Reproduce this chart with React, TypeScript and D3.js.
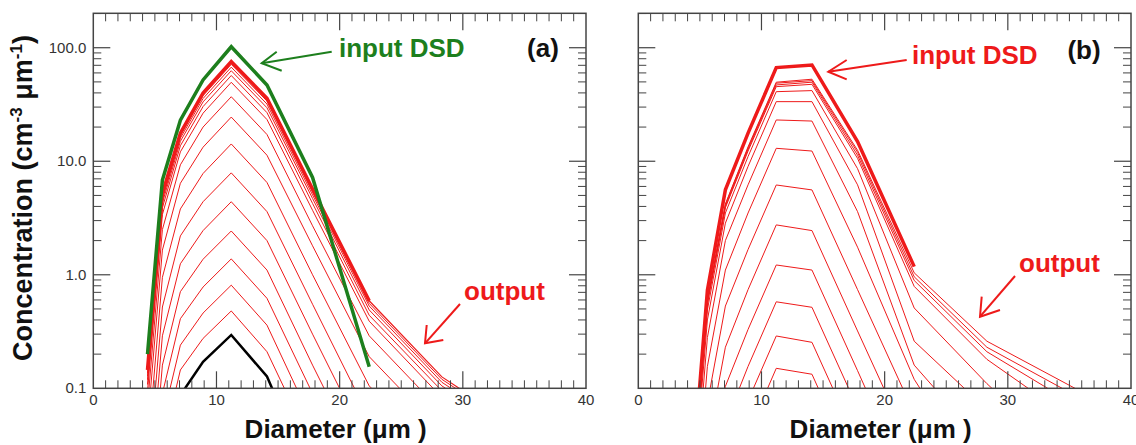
import React from 'react';
import * as d3 from 'd3';

// Diameter bins (µm)
const diameters = [4.4, 5.61, 7.07, 8.91, 11.2, 14.1, 17.8, 22.4, 28.3, 35.6];

// Panel (a)
const inputA = [0.2, 6.84, 23, 52, 102, 47, 7.2, 0.155];
const firstStepA = [0.0005, 0.012, 0.087, 0.171, 0.295, 0.127, 0.015, 0.001];
const outputA: number[][] = [
  [0.001, 0.031, 0.145, 0.275, 0.48, 0.21, 0.03, 0.003, 0.0008, 0.0002],
  [0.0016, 0.052, 0.24, 0.46, 0.81, 0.36, 0.05, 0.005, 0.0013, 0.0004],
  [0.0027, 0.09, 0.41, 0.78, 1.38, 0.62, 0.09, 0.009, 0.0023, 0.0007],
  [0.0047, 0.16, 0.71, 1.37, 2.43, 1.1, 0.16, 0.016, 0.004, 0.0012],
  [0.0085, 0.29, 1.25, 2.45, 4.4, 2.0, 0.3, 0.03, 0.0075, 0.0022],
  [0.015, 0.52, 2.2, 4.4, 7.9, 3.6, 0.55, 0.055, 0.013, 0.004],
  [0.027, 0.95, 3.8, 7.8, 14.2, 6.5, 1.0, 0.105, 0.024, 0.007],
  [0.047, 1.65, 6.4, 13.3, 24.5, 11.3, 1.8, 0.19, 0.041, 0.012],
  [0.07, 2.5, 9.3, 20, 37, 17.2, 2.7, 0.29, 0.062, 0.018],
  [0.094, 3.4, 12.1, 26.5, 49.6, 23.3, 3.7, 0.39, 0.083, 0.025],
  [0.108, 3.9, 13.7, 30.3, 56.9, 26.8, 4.25, 0.44, 0.095, 0.028],
  [0.119, 4.3, 15, 33.3, 62.7, 29.6, 4.7, 0.49, 0.105, 0.031],
  [0.128, 4.6, 16, 35.7, 67.4, 31.9, 5.05, 0.53, 0.113, 0.034],
  [0.136, 4.9, 16.9, 37.8, 71.4, 33.9, 5.35, 0.56, 0.12, 0.036],
];
const finalA = [0.145, 5.2, 17.7, 39.8, 75.4, 35.9, 5.7, 0.59, 0.126, 0.038];

// Panel (b)
const inputB = [0.017, 0.73, 5.6, 17.7, 66.8, 70.5, 14.9, 1.18];
const outputB: number[][] = [
  [0.00005, 0.0018, 0.013, 0.04, 0.15, 0.133, 0.017, 0.001, 0.0001, 0.00002],
  [0.0001, 0.0035, 0.025, 0.078, 0.289, 0.254, 0.033, 0.0026, 0.0002, 0.00003],
  [0.0002, 0.007, 0.049, 0.156, 0.578, 0.517, 0.067, 0.0053, 0.0004, 0.00005],
  [0.0004, 0.015, 0.104, 0.33, 1.22, 1.1, 0.143, 0.011, 0.0009, 0.0001],
  [0.0008, 0.033, 0.23, 0.74, 2.75, 2.45, 0.32, 0.026, 0.002, 0.0002],
  [0.0019, 0.074, 0.53, 1.67, 6.18, 5.59, 0.74, 0.06, 0.005, 0.0005],
  [0.004, 0.156, 1.1, 3.5, 13, 12.3, 1.75, 0.12, 0.012, 0.001],
  [0.007, 0.28, 2.0, 6.2, 23.1, 22.6, 3.6, 0.16, 0.03, 0.003],
  [0.01, 0.4, 2.85, 9, 33.5, 33.5, 6.2, 0.26, 0.065, 0.01],
  [0.012, 0.49, 3.5, 11, 41, 41.9, 8.6, 0.51, 0.11, 0.02],
  [0.014, 0.55, 3.9, 12.3, 45.4, 47.6, 10.6, 0.79, 0.18, 0.05],
  [0.014, 0.57, 4.0, 12.7, 47, 49.7, 11.3, 0.89, 0.21, 0.07],
  [0.015, 0.59, 4.15, 13.1, 48.7, 51.3, 12.0, 0.96, 0.23, 0.085],
  [0.015, 0.6, 4.2, 13.4, 49.7, 52.8, 12.5, 1.04, 0.26, 0.098],
];

const xTickValues = [0, 10, 20, 30, 40];
const yTickValues = [0.1, 1, 10, 100];
const yTickLabels = ['0.1', '1.0', '10.0', '100.0'];

const RED = '#ee1a1a';
const GREEN = '#1d7f1d';
const FONT = '"Liberation Sans", Arial, sans-serif';

const yTop = 13.3;
const yBot = 388.3;

function Panel({ left, right, id, showYLabels, children }: any) {
  const x = d3.scaleLinear().domain([0, 40]).range([left, right]);
  const y = d3.scaleLog().domain([0.1, 201]).range([yBot, yTop]);
  const minorX = d3.range(1, 40).filter((v) => v % 10 !== 0);
  const minorY: number[] = [];
  [0.1, 1, 10, 100].forEach((dec) => {
    for (let m = 2; m <= 9; m++) {
      const v = dec * m;
      if (v < 201) minorY.push(v);
    }
  });
  const line = d3
    .line<number>()
    .x((_, i) => x(diameters[i]))
    .y((d) => y(d));
  const axisColor = '#444';
  return (
    <g>
      <defs>
        <clipPath id={`clip-${id}`}>
          <rect x={left} y={yTop} width={right - left} height={yBot - yTop} />
        </clipPath>
      </defs>
      <g clipPath={`url(#clip-${id})`}>{children(line)}</g>
      <rect x={left} y={yTop} width={right - left} height={yBot - yTop} fill="none" stroke={axisColor} strokeWidth={1.5} />
      {minorX.map((v) => (
        <g key={`mx${v}`} stroke={axisColor} strokeWidth={1}>
          <line x1={x(v)} x2={x(v)} y1={yBot} y2={yBot - 8} />
          <line x1={x(v)} x2={x(v)} y1={yTop} y2={yTop + 8} />
        </g>
      ))}
      {xTickValues.slice(1, -1).map((v) => (
        <g key={`Mx${v}`} stroke={axisColor} strokeWidth={1.2}>
          <line x1={x(v)} x2={x(v)} y1={yBot} y2={yBot - 17} />
          <line x1={x(v)} x2={x(v)} y1={yTop} y2={yTop + 17} />
        </g>
      ))}
      {minorY.map((v) => (
        <g key={`my${v}`} stroke={axisColor} strokeWidth={1}>
          <line x1={left} x2={left + 8} y1={y(v)} y2={y(v)} />
          <line x1={right} x2={right - 8} y1={y(v)} y2={y(v)} />
        </g>
      ))}
      {yTickValues.slice(1).map((v) => (
        <g key={`My${v}`} stroke={axisColor} strokeWidth={1.2}>
          <line x1={left} x2={left + 17} y1={y(v)} y2={y(v)} />
          <line x1={right} x2={right - 17} y1={y(v)} y2={y(v)} />
        </g>
      ))}
      {xTickValues.map((v) => (
        <text key={`xl${v}`} x={x(v)} y={405} textAnchor="middle" fontSize={15} fill="#333" fontFamily={FONT}>
          {v}
        </text>
      ))}
      {showYLabels &&
        yTickValues.map((v, i) => (
          <text key={`yl${v}`} x={left - 7} y={y(v) + 5} textAnchor="end" fontSize={15} fill="#333" fontFamily={FONT}>
            {yTickLabels[i]}
          </text>
        ))}
      <text x={(left + right) / 2 - 4} y={438} textAnchor="middle" fontSize={26} fontWeight="bold" fontFamily={FONT} fill="#111">
        Diameter (μm )
      </text>
    </g>
  );
}

export default function App() {
  return (
    <svg width={1136} height={445} style={{ position: 'absolute', left: 0, top: 0, background: '#fff' }}>
      <rect x={0} y={0} width={1136} height={445} fill="#fff" />
      <Panel left={93.3} right={586} id="a" showYLabels={true}>
        {(line: any) => (
          <g fill="none" strokeLinejoin="miter">
            {outputA.map((s, i) => (
              <path key={i} d={line(s)} stroke={RED} strokeWidth={1} />
            ))}
            <path d={line(finalA)} stroke={RED} strokeWidth={1.2} />
            <path d={line(finalA.slice(0, 8))} stroke={RED} strokeWidth={3.5} />
            <path d={line(inputA)} stroke={GREEN} strokeWidth={3.5} />
            <path d={line(firstStepA)} stroke="#000" strokeWidth={2.5} />
          </g>
        )}
      </Panel>
      <Panel left={638.3} right={1131} id="b" showYLabels={false}>
        {(line: any) => (
          <g fill="none">
            {outputB.map((s, i) => (
              <path key={i} d={line(s)} stroke={RED} strokeWidth={1} />
            ))}
            <path d={line(inputB)} stroke={RED} strokeWidth={3.5} />
          </g>
        )}
      </Panel>

      {/* y-axis title */}
      <text
        transform="translate(32,198) rotate(-90)"
        textAnchor="middle"
        fontSize={27}
        fontWeight="bold"
        fontFamily={FONT}
        fill="#111"
      >
        Concentration (cm<tspan fontSize={17} dy={-10}>-3</tspan>
        <tspan dy={10}> μm</tspan>
        <tspan fontSize={17} dy={-10}>-1</tspan>
        <tspan dy={10}>)</tspan>
      </text>

      {/* panel labels */}
      <text x={543} y={57} textAnchor="middle" fontSize={26} fontWeight="bold" fontFamily={FONT} fill="#111">(a)</text>
      <text x={1084} y={59} textAnchor="middle" fontSize={26} fontWeight="bold" fontFamily={FONT} fill="#111">(b)</text>

      {/* annotations panel a */}
      <text x={339} y={57} fontSize={26} fontWeight="bold" fontFamily={FONT} fill={GREEN}>input DSD</text>
      <g stroke={GREEN} strokeWidth={2} fill="none">
        <path d="M331.7,51.7 L261.7,63.3" />
        <path d="M276.7,51.7 L261.7,63.3 L281.7,70.7" />
      </g>
      <text x={464} y={300} fontSize={26} fontWeight="bold" fontFamily={FONT} fill={RED}>output</text>
      <g stroke={RED} strokeWidth={2} fill="none">
        <path d="M460,304 L425,343.3" />
        <path d="M426.7,325 L425,343.3 L443.3,340" />
      </g>

      {/* annotations panel b */}
      <text x={912} y={64} fontSize={26} fontWeight="bold" fontFamily={FONT} fill={RED}>input DSD</text>
      <g stroke={RED} strokeWidth={2} fill="none">
        <path d="M906.7,60 L828.3,71.7" />
        <path d="M846.7,60 L828.3,71.7 L846.7,79.3" />
      </g>
      <text x={1019} y={272} fontSize={26} fontWeight="bold" fontFamily={FONT} fill={RED}>output</text>
      <g stroke={RED} strokeWidth={2} fill="none">
        <path d="M1015,276 L980,316.7" />
        <path d="M981.7,296.7 L980,316.7 L1000,310" />
      </g>
    </svg>
  );
}
